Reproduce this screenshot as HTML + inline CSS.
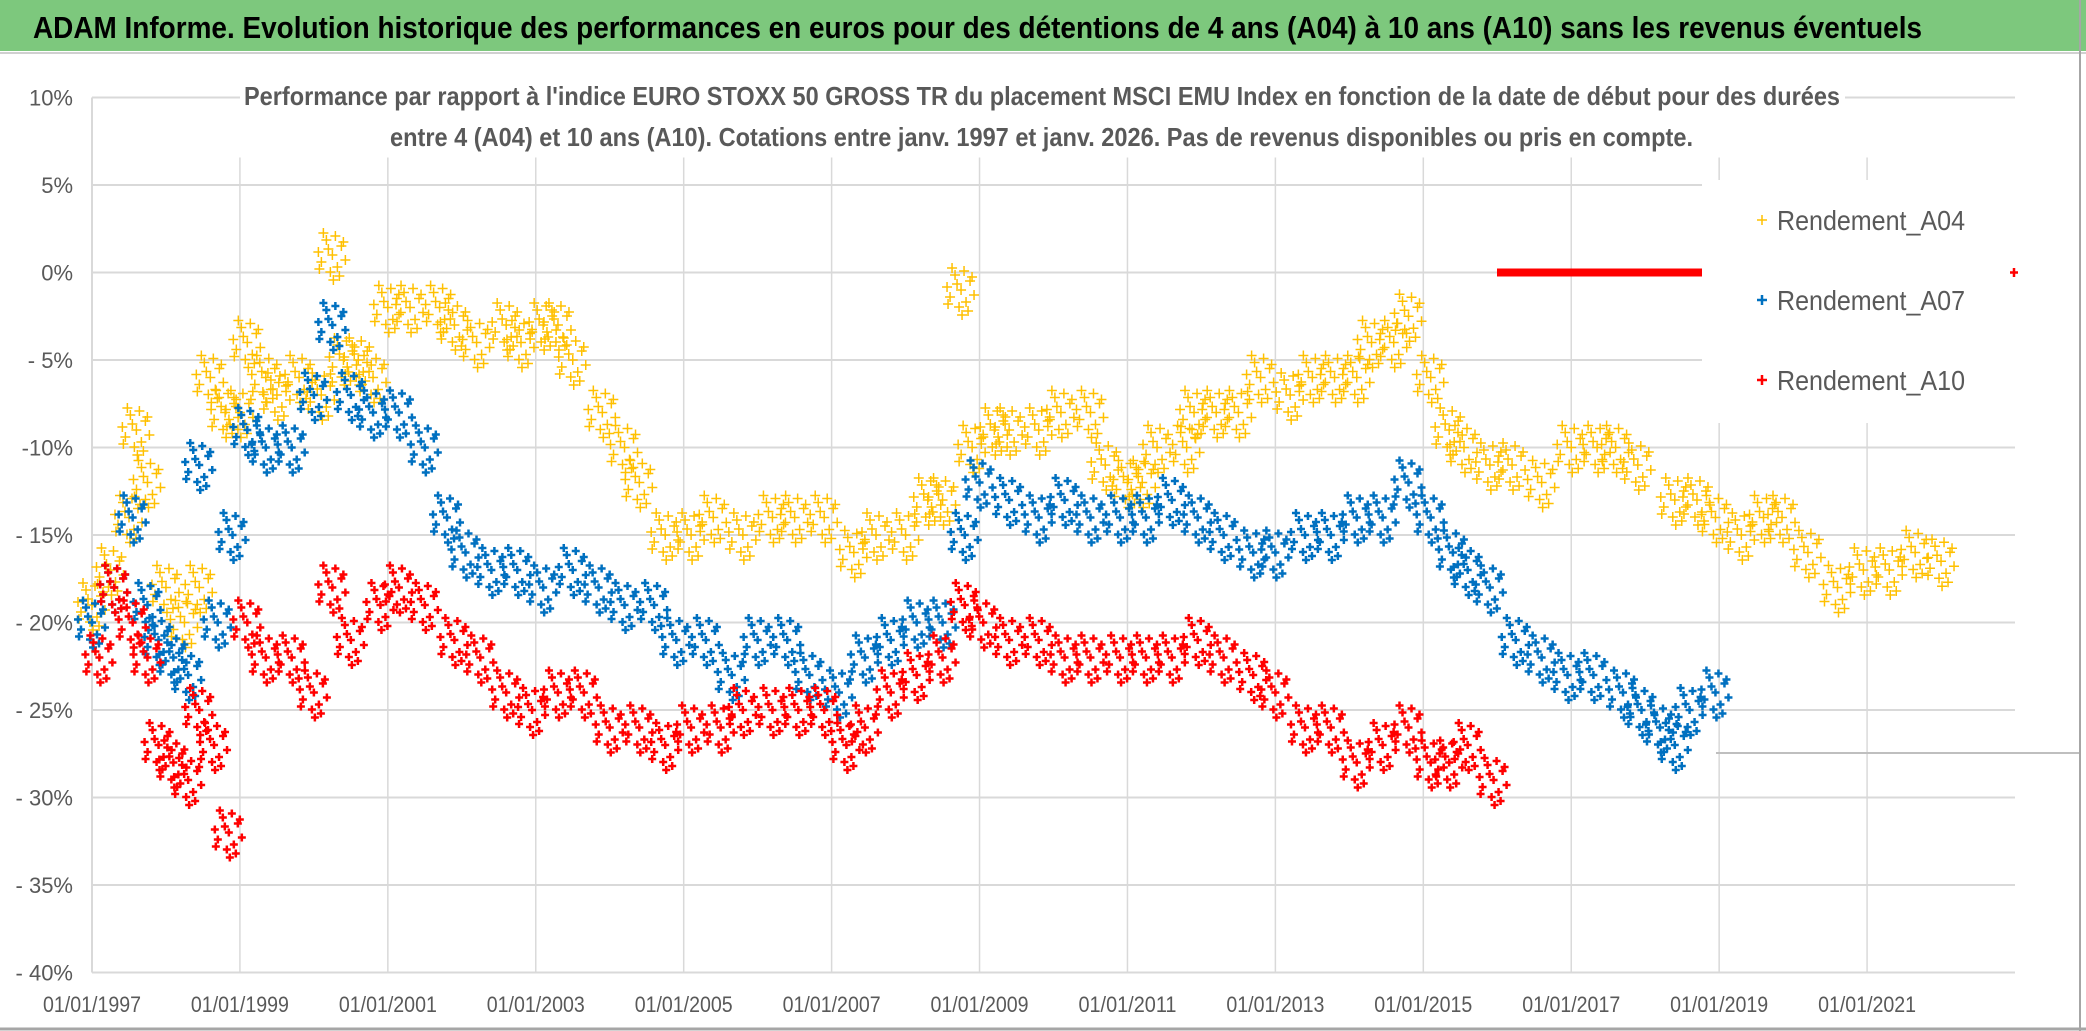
<!DOCTYPE html>
<html><head><meta charset="utf-8"><style>
html,body{margin:0;padding:0;background:#fff}
svg{display:block}
text{font-family:"Liberation Sans",sans-serif}
</style></head><body>
<svg id="chart" width="2086" height="1031" viewBox="0 0 2086 1031">
<rect x="0" y="0" width="2086" height="1031" fill="#fff"/>
<rect x="0" y="0" width="2086" height="51" fill="#7dc87d"/>
<line x1="0" y1="53" x2="2086" y2="53" stroke="#d0d0d0" stroke-width="2"/>
<text x="33" y="38" font-size="31" font-weight="bold" fill="#000" textLength="1889" lengthAdjust="spacingAndGlyphs">ADAM Informe. Evolution historique des performances en euros pour des détentions de 4 ans (A04) à 10 ans (A10) sans les revenus éventuels</text>
<g id="grid"></g>
<g id="marks"></g>
<rect x="1702" y="180" width="313" height="243" fill="#fff"/>
<rect x="240" y="72" width="1605" height="85" fill="#fff"/>
<text x="244" y="105" font-size="26" font-weight="bold" fill="#595959" textLength="1596" lengthAdjust="spacingAndGlyphs">Performance par rapport à l'indice EURO STOXX 50 GROSS TR  du placement MSCI EMU Index en fonction de la date de début pour des durées</text>
<text x="390" y="146" font-size="26" font-weight="bold" fill="#595959" textLength="1303" lengthAdjust="spacingAndGlyphs">entre 4 (A04) et 10 ans (A10). Cotations entre janv. 1997 et janv. 2026. Pas de revenus disponibles ou pris en compte.</text>
<g>
<g><path d="M1757 220h10M1762 215v10" stroke="#FFC000" stroke-width="1.5"/><text x="1777" y="230" font-size="28" fill="#595959" textLength="188" lengthAdjust="spacingAndGlyphs">Rendement_A04</text></g>
<g><path d="M1757 300h10M1762 295v10" stroke="#0070C0" stroke-width="2.5"/><text x="1777" y="310" font-size="28" fill="#595959" textLength="188" lengthAdjust="spacingAndGlyphs">Rendement_A07</text></g>
<g><path d="M1757 380h10M1762 375v10" stroke="#FF0000" stroke-width="2.5"/><text x="1777" y="390" font-size="28" fill="#595959" textLength="188" lengthAdjust="spacingAndGlyphs">Rendement_A10</text></g>
</g>
<line x1="1497" y1="272.5" x2="1702" y2="272.5" stroke="#FF0000" stroke-width="8"/>
<path d="M2010 272.5h8M2014 268v9" stroke="#FF0000" stroke-width="2.5"/>
<line x1="1716" y1="753" x2="2080" y2="753" stroke="#bfbfbf" stroke-width="2"/>
<line x1="2080" y1="0" x2="2080" y2="1031" stroke="#a6a6a6" stroke-width="2"/>
<line x1="0" y1="1029" x2="2086" y2="1029" stroke="#a6a6a6" stroke-width="3"/>
</svg>
<script>
const yTicks=[10,5,0,-5,-10,-15,-20,-25,-30,-35,-40];
const yTickLabels=["10%","5%","0%","- 5%","-10%","- 15%","- 20%","- 25%","- 30%","- 35%","- 40%"];
const xTicks=[1997,1999,2001,2003,2005,2007,2009,2011,2013,2015,2017,2019,2021];
const xTickLabels=["01/01/1997","01/01/1999","01/01/2001","01/01/2003","01/01/2005","01/01/2007","01/01/2009","01/01/2011","01/01/2013","01/01/2015","01/01/2017","01/01/2019","01/01/2021"];
const a04Dates=[1997.0,1997.25,1997.5,1997.6,1997.75,1998.0,1998.25,1998.45,1998.6,1998.8,1999.1,1999.35,1999.5,1999.8,2000.1,2000.25,2000.4,2000.6,2000.8,2001.0,2001.3,2001.7,1999.0,2001.9,2002.2,2002.6,2002.8,2003.1,2003.3,2003.5,2003.9,2004.2,2004.4,2004.75,2005.1,2005.4,2005.8,2006.2,2006.5,2006.9,2007.3,2007.6,2008.0,2008.3,2008.5,2008.75,2008.9,2009.2,2009.4,2009.8,2010.1,2010.5,2010.7,2011.0,2011.2,2011.4,2011.8,2011.9,2012.2,2012.5,2012.8,2013.2,2013.5,2013.8,2014.1,2014.3,2014.6,2014.8,2015.1,2015.35,2015.55,2015.9,2016.2,2016.6,2017.0,2017.35,2017.6,2017.9,2018.4,2018.7,2018.95,2019.3,2019.6,2019.85,2020.2,2020.6,2020.95,2021.3,2021.65,2022.0];
const a04Values=[-19,-17,-14,-9,-12,-18,-20,-18,-6,-8,-4,-6,-7,-6,-7,1,-5,-5,-6,-2,-2,-2,-8,-3,-4,-3,-4,-3,-3,-5,-8,-10,-12,-15,-15,-14,-15,-14,-14,-14,-16,-15,-15,-13,-13,-1,-10,-9,-9,-9,-8,-8,-11,-12,-12,-10,-10,-8,-8,-8,-6,-7,-6,-6,-6,-4,-4,-2.5,-6,-9,-10,-11,-11,-12,-10,-10,-10,-11,-13,-13,-14,-15,-14,-14,-16,-18,-17,-17,-16,-16.5];
const a07Dates=[1997.0,1997.3,1997.55,1997.75,1997.9,1998.1,1998.3,1998.45,1998.7,1998.9,1999.1,1999.35,1999.7,2000.0,2000.25,2000.5,2000.8,2001.15,2001.5,2001.8,2002.05,2002.4,2002.75,2003.1,2003.5,2003.85,2004.2,2004.6,2004.9,2005.3,2005.65,2006.0,2006.4,2006.7,2007.1,2007.45,2007.8,2008.15,2008.5,2008.8,2009.0,2009.4,2009.8,2010.15,2010.5,2010.9,2011.25,2011.6,2011.95,2012.3,2012.7,2013.0,2013.4,2013.75,2014.1,2014.45,2014.8,2015.1,2015.4,2015.6,2015.9,2016.25,2016.6,2016.95,2017.3,2017.7,2017.95,2018.2,2018.4,2018.6,2018.95];
const a07Values=[-20,-18,-14,-19,-21,-22,-23,-11,-20,-15,-9,-10,-10,-7,-3,-7,-8,-8,-10,-14,-16,-17,-17,-18,-17,-18,-19,-19,-21,-21,-23,-21,-21,-23,-24,-22,-21,-20,-20,-15,-12,-13,-14,-13,-14,-14,-14,-13,-14,-15,-16,-16,-15,-15,-14,-14,-12,-14,-16,-17,-18,-21,-22,-23,-23,-24,-25,-26,-27,-25,-24];
const a10Dates=[1997.1,1997.3,1997.55,1997.75,1997.9,1998.1,1998.3,1998.45,1998.65,1998.85,1999.1,1999.35,1999.7,2000.0,2000.25,2000.5,2000.9,2001.15,2001.5,2001.9,2002.25,2002.6,2002.95,2003.3,2003.65,2004.0,2004.4,2004.75,2005.1,2005.5,2005.8,2006.2,2006.55,2006.9,2007.2,2007.45,2007.8,2008.15,2008.5,2008.8,2009.05,2009.4,2009.8,2010.15,2010.5,2010.9,2011.25,2011.6,2011.95,2012.3,2012.7,2013.0,2013.4,2013.75,2014.1,2014.45,2014.8,2015.1,2015.35,2015.6,2015.95];
const a10Values=[-22,-18,-20,-22,-27,-28,-29,-25,-27,-32,-20,-22,-22,-24,-18,-21,-19,-18,-19,-21,-22,-24,-25,-24,-24,-26,-26,-27,-26,-26,-25,-25,-25,-25,-27,-26,-24,-23,-22,-19,-20,-21,-21,-22,-22,-22,-22,-22,-21,-22,-23,-24,-26,-26,-28,-27,-26,-28,-28,-27,-29];

const X0=92,X1=2015,Y0=97.5,Y1=972.5;
function xs(t){return X0+(t-1997)/(2023-1997)*(X1-X0);}
function ys(v){return Y0+(10-v)/50*(Y1-Y0);}
const NS="http://www.w3.org/2000/svg";
const grid=document.getElementById('grid');
function mk(tag,attrs,parent){const e=document.createElementNS(NS,tag);for(const k in attrs)e.setAttribute(k,attrs[k]);parent.appendChild(e);return e;}
yTicks.forEach((v,i)=>{
  const y=ys(v);
  const l=mk('line',{x1:X0,y1:y,x2:X1,y2:y,stroke:'#d9d9d9','stroke-width':2},grid);
  
  
  const t=mk('text',{x:73,y:y+8,'font-size':22,fill:'#595959','text-anchor':'end'},grid);
  t.textContent=yTickLabels[i];
  
  
});
xTicks.forEach((v,i)=>{
  const x=xs(v);
  if(i>0){const l=mk('line',{x1:x,y1:Y0+60,x2:x,y2:Y1,stroke:'#d9d9d9','stroke-width':1.5},grid);
  
  }
  const t=mk('text',{x:x,y:1012,'font-size':22,fill:'#595959','text-anchor':'middle',textLength:98,lengthAdjust:'spacingAndGlyphs'},grid);
  t.textContent=xTickLabels[i];
  
  
});
const ax=mk('line',{x1:X0,y1:Y0,x2:X0,y2:Y1,stroke:'#d9d9d9','stroke-width':2},grid);


const offX=[0,-11,9,-6,5,-14,13,-2,3,-9,7,-4,11,-13,1];
const offY=[0,7,-9,-15,12,-3,5,17,-19,-22,21,-6,-13,14,25];
const marks=document.getElementById('marks');
function series(dates,vals,color,sw,sz,name){
  const g=mk('g',{},marks);
  
  
  let d='';
  dates.forEach((t,i)=>{
    const cx=xs(t),cy=ys(vals[i]);
    for(let k=0;k<offX.length;k++){
      const px=cx+offX[k],py=cy+offY[k];
      d+=`M${px-sz} ${py}h${2*sz}M${px} ${py-sz}v${2*sz}`;
    }
  });
  const p=mk('path',{d:d,stroke:color,'stroke-width':sw,fill:'none'},g);
  
  
}
series(a04Dates,a04Values,'#FFC000',1.5,5,'series-a04');
series(a07Dates,a07Values,'#0070C0',2.5,4,'series-a07');
series(a10Dates,a10Values,'#FF0000',2.5,4,'series-a10');
</script>
</body></html>
